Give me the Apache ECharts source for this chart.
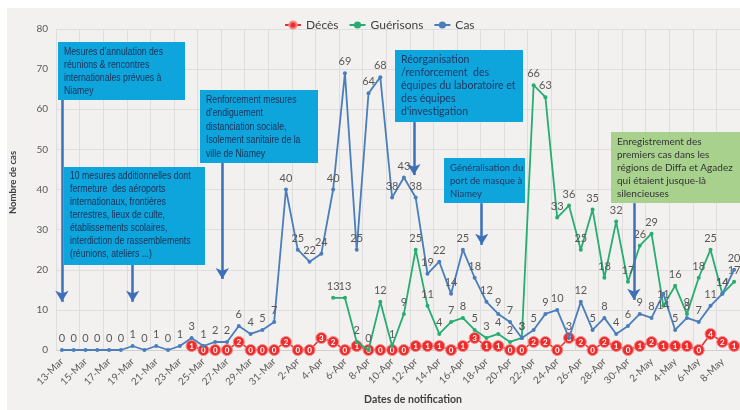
<!DOCTYPE html>
<html>
<head>
<meta charset="utf-8">
<script src="https://cdn.jsdelivr.net/npm/echarts@6.0.0/dist/echarts.min.js"></script>
<style>
  html, body { margin: 0; padding: 0; background: #fff; }
  #chart { width: 740px; height: 410px; }
</style>
</head>
<body>
<div id="chart"></div>
<script>
const dates = [
  '13-Mar', '14-Mar', '15-Mar', '16-Mar', '17-Mar', '18-Mar', '19-Mar', '20-Mar', '21-Mar', '22-Mar',
  '23-Mar', '24-Mar', '25-Mar', '26-Mar', '27-Mar', '28-Mar', '29-Mar', '30-Mar', '31-Mar', '1-Apr',
  '2-Apr', '3-Apr', '4-Apr', '5-Apr', '6-Apr', '7-Apr', '8-Apr', '9-Apr', '10-Apr', '11-Apr',
  '12-Apr', '13-Apr', '14-Apr', '15-Apr', '16-Apr', '17-Apr', '18-Apr', '19-Apr', '20-Apr', '21-Apr',
  '22-Apr', '23-Apr', '24-Apr', '25-Apr', '26-Apr', '27-Apr', '28-Apr', '29-Apr', '30-Apr', '1-May',
  '2-May', '3-May', '4-May', '5-May', '6-May', '7-May', '8-May', '9-May'
]

const deces = [
  null, null, null, null, null, null, null, null, null, null,
  null, 1, 0, 0, 0, 2, 0, 0, 0, 2,
  0, 0, 3, 2, 0, 1, 0, 0, 0, 0,
  1, 1, 1, 0, 1, 3, 1, 1, 0, 0,
  2, 2, 0, 3, 2, 0, 2, 1, 0, 1,
  2, 1, 1, 1, 0, 4, 2, 1
]

const guerisons = [
  null, null, null, null, null, null, null, null, null, null,
  null, null, null, null, null, null, null, null, null, null,
  null, null, null, 13, 13, 2, 0, 12, 1, 9,
  25, 11, 4, 7, 8, 5, 3, 4, 2, 3,
  66, 63, 33, 36, 25, 35, 18, 32, 17, 26,
  29, 11, 16, 9, 18, 25, 14, 17
]

const cas = [
  0, 0, 0, 0, 0, 0, 1, 0, 1, 0,
  1, 3, 1, 2, 2, 6, 4, 5, 7, 40,
  25, 22, 24, 40, 69, 25, 64, 68, 38, 43,
  38, 19, 22, 14, 25, 18, 12, 9, 7, 3,
  5, 9, 10, 3, 12, 5, 8, 4, 6, 9,
  8, 14, 5, 8, 7, 11, 14, 20
]

// points of the "Cas" line whose label sits under the point
const casLabelBelow = [51]

// annotation arrows: [day index from 13-Mar, start value, tip value]
const arrows = [
  [0, 62.3, 12],
  [6, 21.2, 12],
  [13.6, 46.6, 17.7],
  [29.85, 56.8, 43.6],
  [35.6, 36.6, 26.2],
  [48.5, 36.6, 12.5]
]

const notes = [
  "Mesures d'annulation des\nréunions & rencontres\ninternationales prévues à\nNiamey",
  "10 mesures additionnelles dont\nfermeture  des aéroports\ninternationaux, frontières\nterrestres, lieux de culte,\nétablissements scolaires,\ninterdiction de rassemblements\n(réunions, ateliers ...)",
  "Renforcement mesures\nd'endiguement\ndistanciation sociale,\nIsolement sanitaire de la\nville de Niamey",
  "Réorganisation\n/renforcement  des\néquipes du laboratoire et\ndes équipes\nd'investigation",
  "Généralisation du\nport de masque à\nNiamey",
  "Enregistrement des\npremiers cas dans les\nrégions de Diffa et Agadez\nqui étaient jusque-là\nsilencieuses"
]

const chart = echarts.init(document.getElementById('chart'))

const BOX_BLUE = '#0ea5dc'
const ARROW = '#3d70b8'
const arial = "'Liberation Sans', Arial, sans-serif"

// coloured note box; squeeze < 1 narrows the text like a condensed face
function noteBox(x, y, w, h, fill, text, font, color, lineHeight, squeeze) {
  return [
    { type: 'rect', z: 100, shape: { x: x, y: y, width: w, height: h }, style: { fill: fill } },
    {
      type: 'text', z: 101, x: x + 6, y: y + 3, scaleX: squeeze || 1,
      style: { text: text, font: font, fill: color, lineHeight: lineHeight, verticalAlign: 'top' }
    }
  ]
}

const graphics = [
  { type: 'rect', z: 100, shape: { x: 0, y: 0, width: 740, height: 8 }, style: { fill: '#ffffff' } },
  { type: 'rect', z: 100, shape: { x: 0, y: 0, width: 7, height: 410 }, style: { fill: '#ffffff' } }
]
  .concat(noteBox(58, 42, 127, 58, BOX_BLUE, notes[0], '10.5px ' + arial, '#1c2f55', 13.3, 0.83))
  .concat(noteBox(64, 167, 141, 98, BOX_BLUE, notes[1], '10.5px ' + arial, '#1c2f55', 13, 0.83))
  .concat(noteBox(200, 90, 118, 73, BOX_BLUE, notes[2], '10.5px ' + arial, '#1c2f55', 13.5, 0.83))
  .concat(noteBox(395, 50, 128, 72, BOX_BLUE, notes[3], '10.5px Lato', '#1f3864', 13))
  .concat(noteBox(444, 158, 81, 45, BOX_BLUE, notes[4], '9.5px Lato', '#1f3864', 13))
  .concat(noteBox(611, 132, 129, 71, '#a9d18e', notes[5], '10px Lato', '#333333', 13))

const pointLabel = { show: true, position: 'top', distance: 4, color: '#595959', fontSize: 11, fontFamily: 'Lato' }

chart.setOption({
  backgroundColor: '#f2f1ef',
  animation: false,
  textStyle: { fontFamily: 'Lato' },
  legend: {
    data: ['Décès', 'Guérisons', 'Cas'],
    top: 14,
    left: 279,
    itemWidth: 16,
    itemHeight: 9,
    itemGap: 10,
    textStyle: { fontSize: 12, color: '#404040', fontFamily: 'Lato' }
  },
  grid: { left: 53, right: 0, top: 29, bottom: 60 },
  xAxis: [
    {
      type: 'category',
      data: dates,
      boundaryGap: true,
      name: 'Dates de notification',
      nameLocation: 'middle',
      nameGap: 44,
      nameTextStyle: { fontSize: 10.5, fontWeight: 'bold', color: '#404040', padding: [0, 0, 0, 30] },
      axisLine: { lineStyle: { color: '#d0d0d0' } },
      axisTick: { show: false },
      axisLabel: { interval: 1, rotate: 45, margin: 10, fontSize: 10, color: '#595959' },
      splitLine: { show: true, lineStyle: { color: '#dedede' } }
    },
    { type: 'value', min: -0.5, max: 57.5, show: false }
  ],
  yAxis: {
    type: 'value',
    min: 0,
    max: 80,
    interval: 10,
    name: 'Nombre de cas',
    nameLocation: 'middle',
    nameGap: 38,
    nameTextStyle: { fontSize: 9.5, fontWeight: 'bold', color: '#404040', padding: [0, 0, 0, 14] },
    axisLine: { show: false },
    axisTick: { show: false },
    axisLabel: { margin: 8, fontSize: 10, color: '#595959' },
    splitLine: { lineStyle: { color: '#dedede' } }
  },
  series: [
    {
      name: 'Décès',
      type: 'line',
      data: deces,
      symbol: 'circle',
      symbolSize: 11,
      showAllSymbol: true,
      lineStyle: { color: '#ee2c2c', width: 1.5 },
      itemStyle: { color: '#ee2c2c', borderColor: '#f58a8a', borderWidth: 1 },
      label: { show: true, position: 'inside', color: '#fff', fontSize: 8, fontWeight: 'bold' },
      z: 3
    },
    {
      name: 'Guérisons',
      type: 'line',
      data: guerisons,
      symbol: 'circle',
      symbolSize: 4,
      showAllSymbol: true,
      lineStyle: { color: '#27ad72', width: 1.8 },
      itemStyle: { color: '#27ad72' },
      label: pointLabel,
      z: 4
    },
    {
      name: 'Cas',
      type: 'line',
      data: cas.map((v, i) => casLabelBelow.includes(i) ? { value: v, label: { position: 'bottom' } } : v),
      symbol: 'circle',
      symbolSize: 4,
      showAllSymbol: true,
      lineStyle: { color: '#4a7ebb', width: 1.8 },
      itemStyle: { color: '#4a7ebb' },
      label: pointLabel,
      z: 5
    },
    {
      name: 'notes',
      type: 'line',
      xAxisIndex: 1,
      data: [],
      silent: true,
      markLine: {
        silent: true,
        symbol: ['none', 'arrow'],
        symbolSize: [10, 11],
        label: { show: false },
        lineStyle: { color: ARROW, width: 2.5, type: 'solid' },
        data: arrows.map((a) => [{ coord: [a[0], a[1]] }, { coord: [a[0], a[2]] }])
      },
      z: 6
    }
  ],
  graphic: graphics
})
</script>
</body>
</html>
